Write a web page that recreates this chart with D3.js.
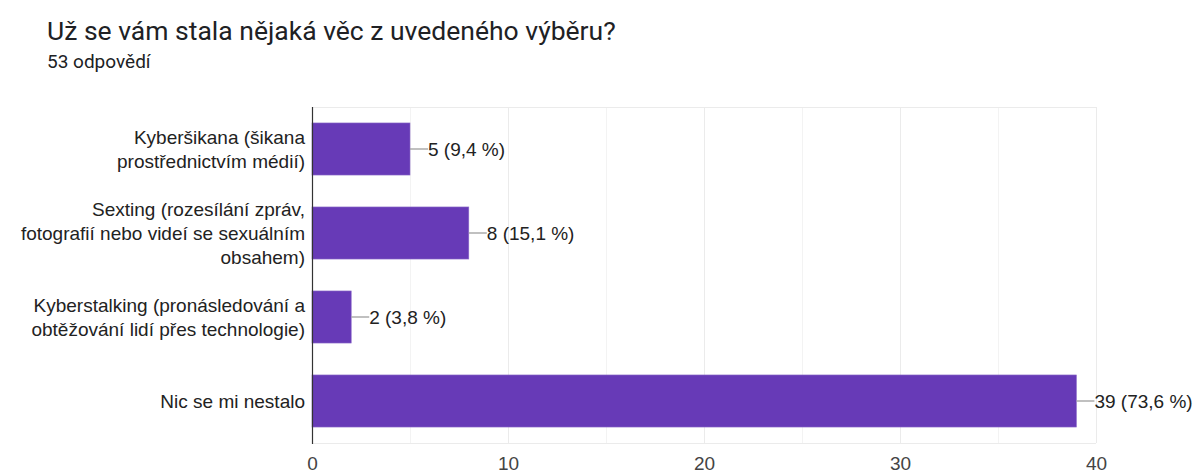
<!DOCTYPE html>
<html>
<head>
<meta charset="utf-8">
<script src="https://cdn.jsdelivr.net/npm/d3@7"></script>
<style>
  html, body { margin: 0; padding: 0; background: #fff; }
  svg { display: block; font-family: "Liberation Sans", Arial, sans-serif; }
</style>
</head>
<body>
<svg id="chart" width="1198" height="473"></svg>
<script>
const title = "Už se vám stala nějaká věc z uvedeného výběru?";
const subtitle = "53 odpovědí";
const totalResponses = 53;
const categories = [
  ["Kyberšikana (šikana", "prostřednictvím médií)"],
  ["Sexting (rozesílání zpráv,", "fotografií nebo videí se sexuálním", "obsahem)"],
  ["Kyberstalking (pronásledování a", "obtěžování lidí přes technologie)"],
  ["Nic se mi nestalo"]
];
const values = [5, 8, 2, 39];
const xTicks = [0, 10, 20, 30, 40];
const minorTicks = [5, 15, 25, 35];

const svg = d3.select("#chart");
const pLeft = 312, pRight = 1096, pTop = 107, pBottom = 443;
const chartFont = "'Liberation Sans', Arial, sans-serif";

svg.append("text").attr("x", 47).attr("y", 40)
  .attr("font-family", "Roboto, Arial, sans-serif")
  .attr("font-size", 26.5).attr("fill", "#202124").text(title);
svg.append("text").attr("x", 47).attr("y", 68)
  .attr("font-family", "Roboto, Arial, sans-serif")
  .attr("font-size", 19).attr("fill", "#202124").text(subtitle);

const x = d3.scaleLinear().domain([0, 40]).range([pLeft, pRight]);
const y = d3.scaleBand().domain(d3.range(categories.length)).range([pTop, pBottom])
  .paddingInner(0.38).paddingOuter(0.19);

// grid
svg.append("g").selectAll("line").data(minorTicks).join("line")
  .attr("x1", d => Math.round(x(d)) + 0.5).attr("x2", d => Math.round(x(d)) + 0.5)
  .attr("y1", pTop).attr("y2", pBottom)
  .attr("stroke", "#f3f3f3").attr("stroke-width", 1);
svg.append("g").selectAll("line").data(xTicks.slice(1)).join("line")
  .attr("x1", d => Math.round(x(d)) + 0.5).attr("x2", d => Math.round(x(d)) + 0.5)
  .attr("y1", pTop).attr("y2", pBottom)
  .attr("stroke", "#ebebeb").attr("stroke-width", 1);
svg.append("line").attr("x1", pLeft).attr("x2", pRight).attr("y1", pTop + 0.5).attr("y2", pTop + 0.5)
  .attr("stroke", "#ebebeb");
svg.append("line").attr("x1", pLeft).attr("x2", pRight).attr("y1", pBottom + 0.5).attr("y2", pBottom + 0.5)
  .attr("stroke", "#ebebeb");

// x axis tick labels
const xAxis = d3.axisBottom(x).tickValues(xTicks).tickSize(0).tickPadding(13);
const gx = svg.append("g").attr("transform", `translate(0,${pBottom + 1})`).call(xAxis);
gx.select(".domain").remove();
gx.selectAll("text").attr("font-size", 19).attr("fill", "#444").attr("font-family", chartFont);

// bars
svg.append("g").selectAll("rect").data(values).join("rect")
  .attr("x", x(0)).attr("y", (d, i) => y(i))
  .attr("width", d => x(d) - x(0)).attr("height", y.bandwidth())
  .attr("fill", "#673ab7").attr("stroke", "#8c6bc9").attr("stroke-width", 0.6);

// left axis line
svg.append("line").attr("x1", pLeft + 0.5).attr("x2", pLeft + 0.5).attr("y1", pTop).attr("y2", pBottom + 1)
  .attr("stroke", "#333").attr("stroke-width", 1.2);

// value labels
const fmt = v => (Math.round(v / totalResponses * 1000) / 10).toFixed(1).replace(".", ",");
const lab = svg.append("g").selectAll("g").data(values).join("g");
lab.append("line")
  .attr("x1", d => x(d)).attr("x2", d => x(d) + 18)
  .attr("y1", (d, i) => y(i) + y.bandwidth() / 2).attr("y2", (d, i) => y(i) + y.bandwidth() / 2)
  .attr("stroke", "#9e9e9e").attr("stroke-width", 1.3);
lab.append("text")
  .attr("x", d => x(d) + 18).attr("y", (d, i) => y(i) + y.bandwidth() / 2)
  .attr("dy", "0.36em").attr("font-size", 19).attr("fill", "#222")
  .attr("font-family", chartFont)
  .text(d => `${d} (${fmt(d)} %)`);

// category labels
const lineH = 24;
const cl = svg.append("g").selectAll("text").data(categories).join("text")
  .attr("text-anchor", "end").attr("font-size", 19).attr("fill", "#222")
  .attr("font-family", chartFont)
  .attr("y", (d, i) => y(i) + y.bandwidth() / 2 - (d.length - 1) * lineH / 2);
cl.selectAll("tspan").data(d => d).join("tspan")
  .attr("x", 305).attr("dy", (d, j) => j === 0 ? "0.36em" : lineH)
  .text(d => d);
</script>
</body>
</html>
